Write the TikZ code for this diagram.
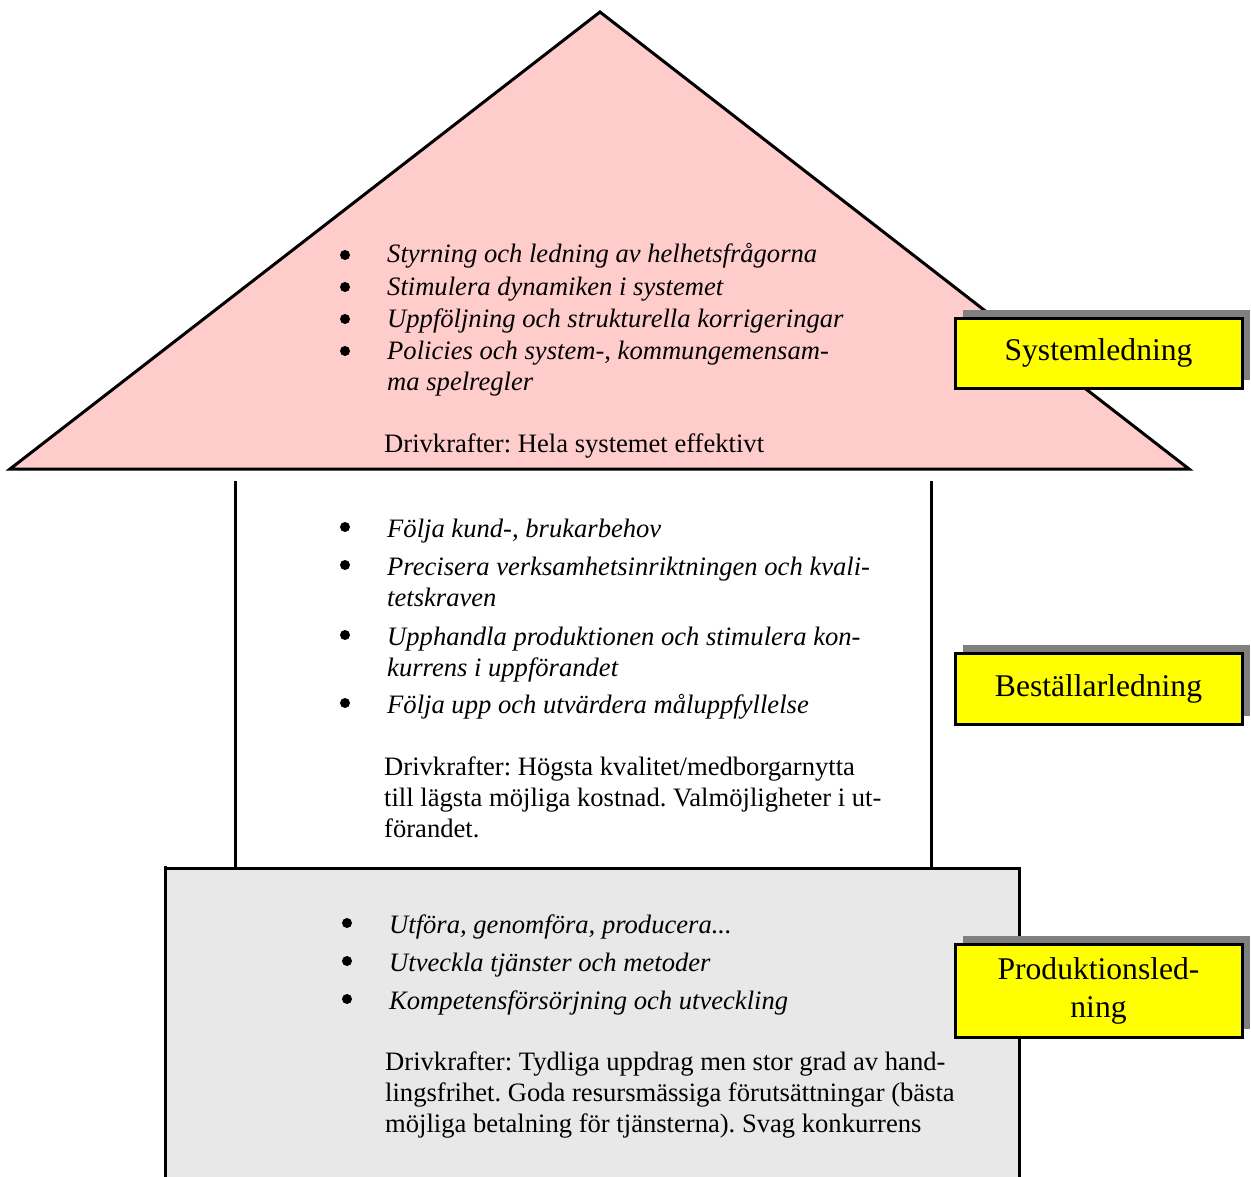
\documentclass[tikz,border=0pt]{standalone}
\usepackage{fontspec}
\setmainfont{Liberation Serif}
\usetikzlibrary{shadows}
\definecolor{roofpink}{RGB}{255,204,204}
\definecolor{basegrey}{RGB}{232,232,232}
\definecolor{shadegrey}{RGB}{128,128,128}
\definecolor{labelyellow}{RGB}{255,255,0}
\frenchspacing
\begin{document}
\begin{tikzpicture}[x=1pt,y=-1pt,
  body/.style={font=\fontsize{26.6}{30.6}\selectfont, anchor=base west, inner sep=0pt},
  itbody/.style={font=\fontsize{26.6}{30.6}\selectfont\itshape, anchor=base west, inner sep=0pt},
  bul/.style={circle, fill=black, inner sep=0pt, minimum size=10pt},
  outline/.style={draw=black, line width=3pt, line join=miter},
  labelbox/.style={draw=black, line width=3pt, fill=labelyellow, minimum width=287pt,
    font=\fontsize{31.6}{38}\selectfont, align=center, inner sep=0pt,
    general shadow={shadow xshift=8pt, shadow yshift=8pt, fill=shadegrey, draw=none}}
]
\useasboundingbox (0,0) rectangle (1251,1177);
\clip (0,0) rectangle (1251,1177);

% walls
\draw[outline] (235,481) -- (235,868);
\draw[outline] (931,481) -- (931,868);

% base box
\draw[outline, fill=basegrey] (165,866) -- (165,1200) -- (1019,1200) -- (1019,868) -- (163.5,868);

% roof
\draw[outline, fill=roofpink] (10,469) -- (600,12) -- (1189,469) -- cycle;

% roof text
\node[bul] (b1) at (345,255) {};
\node[itbody] (t1) at (387,263) {Styrning och ledning av helhetsfrågorna};
\node[bul] (b2) at (345,287) {};
\node[itbody] (t2) at (387,295) {Stimulera dynamiken i systemet};
\node[bul] (b3) at (345,319) {};
\node[itbody] (t3) at (387,327) {Uppföljning och strukturella korrigeringar};
\node[bul] (b4) at (345,351) {};
\node[itbody] (t4) at (387,359) {Policies och system-, kommungemensam-};
\node[itbody] (t4b) at (387,390) {ma spelregler};
\node[body] (d1) at (384,452) {Drivkrafter: Hela systemet effektivt};

% middle text
\node[bul] (m1) at (345,527) {};
\node[itbody] (mt1) at (387,537) {Följa kund-, brukarbehov};
\node[bul] (m2) at (345,565) {};
\node[itbody] (mt2) at (387,575) {Precisera verksamhetsinriktningen och kvali-};
\node[itbody] (mt2b) at (387,606) {tetskraven};
\node[bul] (m3) at (345,635) {};
\node[itbody] (mt3) at (387,645) {Upphandla produktionen och stimulera kon-};
\node[itbody] (mt3b) at (387,676) {kurrens i uppförandet};
\node[bul] (m4) at (345,703) {};
\node[itbody] (mt4) at (387,713) {Följa upp och utvärdera måluppfyllelse};
\node[body] (md1) at (384,775) {Drivkrafter: Högsta kvalitet/medborgarnytta};
\node[body] (md2) at (384,806) {till lägsta möjliga kostnad. Valmöjligheter i ut-};
\node[body] (md3) at (384,837) {förandet.};

% bottom text
\node[bul] (p1) at (347,923) {};
\node[itbody] (pt1) at (389,933) {Utföra, genomföra, producera...};
\node[bul] (p2) at (347,961) {};
\node[itbody] (pt2) at (389,971) {Utveckla tjänster och metoder};
\node[bul] (p3) at (347,999) {};
\node[itbody] (pt3) at (389,1009) {Kompetensförsörjning och utveckling};
\node[body] (pd1) at (385,1070) {Drivkrafter: Tydliga uppdrag men stor grad av hand-};
\node[body] (pd2) at (385,1101) {lingsfrihet. Goda resursmässiga förutsättningar (bästa};
\node[body] (pd3) at (385,1132) {möjliga betalning för tjänsterna). Svag konkurrens};

% labels
\node[labelbox, minimum height=70pt] (sys) at (1098.5,353) {Systemledning};
\node[labelbox, minimum height=71pt] (best) at (1098.5,688.5) {Beställarledning};
\node[labelbox, minimum height=93pt] (prod) at (1098.5,990.5) {Produktionsled-\\ning};
\end{tikzpicture}
\end{document}
